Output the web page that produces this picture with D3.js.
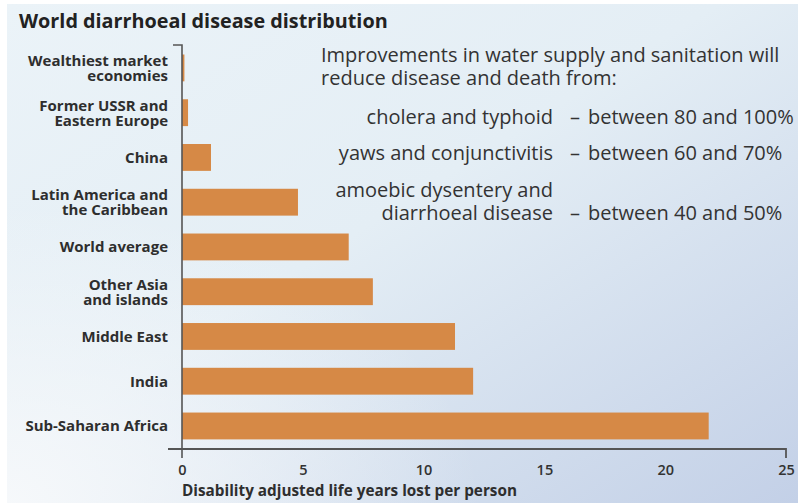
<!DOCTYPE html>
<html><head><meta charset="utf-8">
<script src="https://cdn.jsdelivr.net/npm/d3@7"></script>
<style>
html,body{margin:0;padding:0;background:#fff;}
svg{display:block;}
</style></head>
<body>
<svg id="chart" width="798" height="503"></svg>
<script>
const categories = [
  ["Wealthiest market","economies"],
  ["Former USSR and","Eastern Europe"],
  ["China"],
  ["Latin America and","the Caribbean"],
  ["World average"],
  ["Other Asia","and islands"],
  ["Middle East"],
  ["India"],
  ["Sub-Saharan Africa"]
];
const values = [0.1, 0.25, 1.2, 4.8, 6.9, 7.9, 11.3, 12.05, 21.8];
const xTicks = [0, 5, 10, 15, 20, 25];
const title = "World diarrhoeal disease distribution";
const xTitle = "Disability adjusted life years lost per person";
const introLines = ["Improvements in water supply and sanitation will","reduce disease and death from:"];
const diseases = [["cholera and typhoid"],["yaws and conjunctivitis"],["amoebic dysentery and","diarrhoeal disease"]];
const reductions = ["between 80 and 100%","between 60 and 70%","between 40 and 50%"];

const svg = d3.select("#chart");
const defs = svg.append("defs");
const g1 = defs.append("linearGradient").attr("id","bg").attr("x1",0).attr("y1",0).attr("x2",1).attr("y2",1);
g1.append("stop").attr("offset",0).attr("stop-color","#ebf3f8");
g1.append("stop").attr("offset",0.45).attr("stop-color","#e4eef5");
g1.append("stop").attr("offset",1).attr("stop-color","#c3d0e7");
const g2 = defs.append("radialGradient").attr("id","bl").attr("cx",0).attr("cy",1).attr("r",0.6);
g2.append("stop").attr("offset",0).attr("stop-color","#f7f9fb").attr("stop-opacity",0.95);
g2.append("stop").attr("offset",1).attr("stop-color","#f7f9fb").attr("stop-opacity",0);

svg.append("rect").attr("x",7).attr("y",4).attr("width",791).attr("height",499).attr("fill","url(#bg)");
svg.append("rect").attr("x",7).attr("y",4).attr("width",791).attr("height",499).attr("fill","url(#bl)");

const x = d3.scaleLinear().domain([0,25]).range([182,786]);
const y = d3.scaleBand().domain(d3.range(categories.length)).range([36.6,457.3]).padding(0.4);

const font = "'Open Sans', sans-serif";

// title
svg.append("text").attr("x",19).attr("y",28).text(title)
  .attr("font-family",font).attr("font-weight",700).attr("font-size",19.8).attr("fill","#222");

// bars
svg.append("g").selectAll("rect").data(values).join("rect")
  .attr("x",x(0)).attr("y",(d,i)=>y(i)).attr("width",d=>x(d)-x(0)).attr("height",y.bandwidth())
  .attr("fill","#d68946");

// category labels (multi-line as tspans in one text)
const lab = svg.append("g").attr("font-family",font).attr("font-weight",700).attr("font-size",15)
  .attr("fill","#2e2e2e").attr("text-anchor","end");
categories.forEach((lines,i)=>{
  const cy = y(i)+y.bandwidth()/2;
  const n = lines.length;
  const t = lab.append("text").attr("x",168).attr("y",cy + 5.5 - (n-1)/2*15);
  lines.forEach((s,j)=>{
    t.append("tspan").attr("x",168).attr("dy", j===0 ? 0 : 15).text(s);
  });
});

// axes lines
const axisColor = "#555";
svg.append("path").attr("d",`M${x(0)-9},45H${x(0)}V458`).attr("fill","none").attr("stroke",axisColor).attr("stroke-width",1.6);
svg.append("path").attr("d",`M168,449H${x(25)}V458`).attr("fill","none").attr("stroke",axisColor).attr("stroke-width",1.8);

// tick labels via d3 axis
const ax = svg.append("g").attr("transform","translate(0,462)")
  .call(d3.axisBottom(x).tickValues(xTicks).tickSize(0).tickFormat(d3.format("d")));
ax.select(".domain").remove();
ax.selectAll("text").attr("font-family",font).attr("font-weight",600).attr("font-size",14.5).attr("fill","#333").attr("dy","0.71em");

svg.append("text").attr("x",182).attr("y",496).text(xTitle)
  .attr("font-family",font).attr("font-weight",700).attr("font-size",15.3).attr("fill","#2e2e2e");

// annotation
const ann = svg.append("g").attr("font-family",font).attr("font-size",20).attr("fill","#333");
const intro = ann.append("text").attr("x",321).attr("y",62);
introLines.forEach((s,i)=>intro.append("tspan").attr("x",321).attr("dy", i===0 ? 0 : 23).text(s));
const rowY = [124,160,197];
diseases.forEach((lines,i)=>{
  const t = ann.append("text").attr("x",553).attr("y",rowY[i]).attr("text-anchor","end");
  lines.forEach((s,j)=>t.append("tspan").attr("x",553).attr("dy", j===0 ? 0 : 23).text(s));
  const last = rowY[i] + (lines.length-1)*23;
  ann.append("text").attr("x",575).attr("y",last).attr("text-anchor","middle").text("–");
  ann.append("text").attr("x",588).attr("y",last).text(reductions[i]);
});
</script>
</body></html>
